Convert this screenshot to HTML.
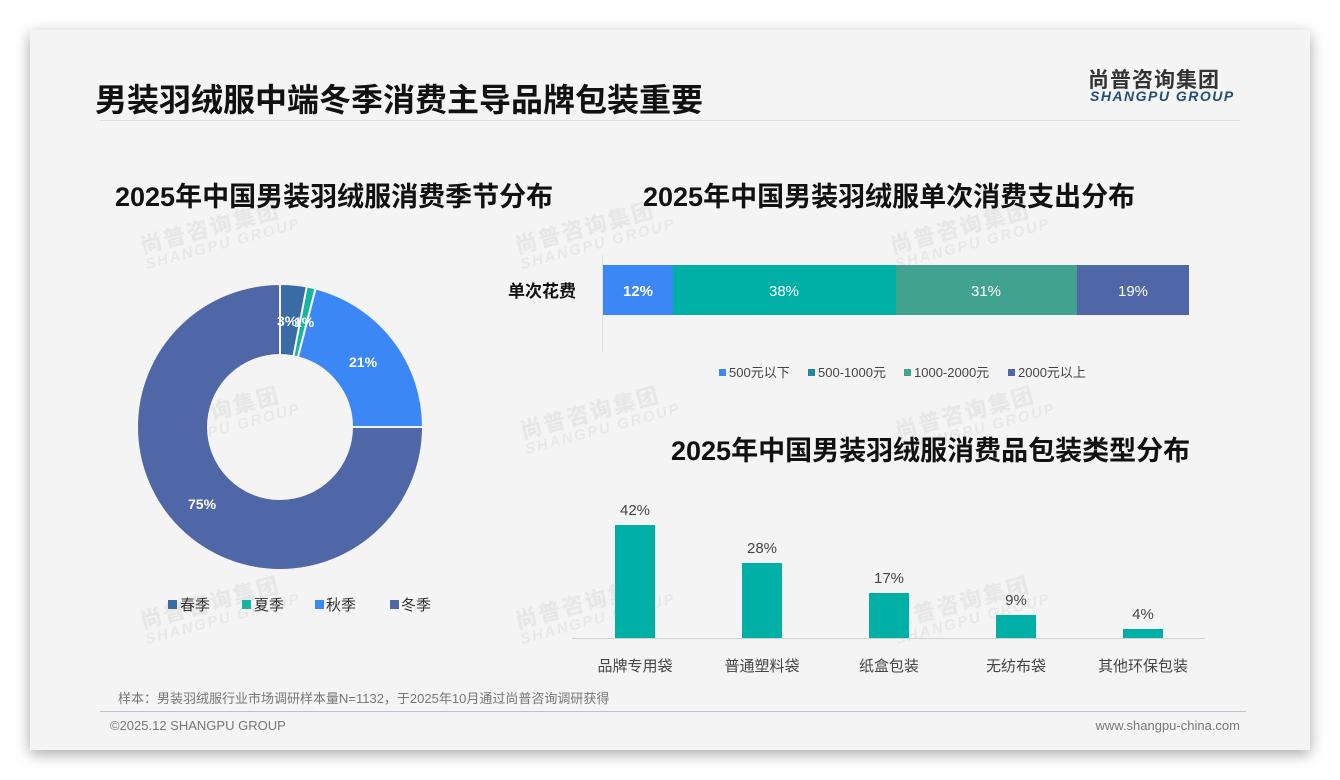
<!DOCTYPE html>
<html><head><meta charset="utf-8"><style>
body{margin:0;width:1340px;height:780px;background:#fff;font-family:"Liberation Sans","Noto Sans CJK SC",sans-serif;position:relative;overflow:hidden}
.card{position:absolute;left:30px;top:30px;width:1280px;height:720px;background:#f4f4f4;box-shadow:0 4px 14px rgba(0,0,0,.35)}
.abs{position:absolute;white-space:nowrap}
.wm{position:absolute;color:rgba(0,0,0,.05);font-weight:bold;transform:rotate(-15deg);line-height:1}
.wm b{display:block;font-size:22px;letter-spacing:2px}
.wm i{display:block;font-size:15px;font-style:italic;letter-spacing:2px}
</style></head><body>
<div class="card"></div>
<div class="wm" style="left:140px;top:215px"><b>尚普咨询集团</b><i>SHANGPU GROUP</i></div>
<div class="wm" style="left:515px;top:215px"><b>尚普咨询集团</b><i>SHANGPU GROUP</i></div>
<div class="wm" style="left:890px;top:215px"><b>尚普咨询集团</b><i>SHANGPU GROUP</i></div>
<div class="wm" style="left:140px;top:400px"><b>尚普咨询集团</b><i>SHANGPU GROUP</i></div>
<div class="wm" style="left:520px;top:400px"><b>尚普咨询集团</b><i>SHANGPU GROUP</i></div>
<div class="wm" style="left:895px;top:400px"><b>尚普咨询集团</b><i>SHANGPU GROUP</i></div>
<div class="wm" style="left:140px;top:590px"><b>尚普咨询集团</b><i>SHANGPU GROUP</i></div>
<div class="wm" style="left:515px;top:590px"><b>尚普咨询集团</b><i>SHANGPU GROUP</i></div>
<div class="wm" style="left:890px;top:590px"><b>尚普咨询集团</b><i>SHANGPU GROUP</i></div>

<div class="abs" style="left:95px;top:75px;font-size:32px;font-weight:bold;color:#111">男装羽绒服中端冬季消费主导品牌包装重要</div>
<div class="abs" style="left:1088px;top:64px;font-size:21px;font-weight:bold;color:#333;letter-spacing:1px">尚普咨询集团</div>
<div class="abs" style="left:1090px;top:88px;font-size:14px;font-weight:bold;font-style:italic;color:#1f4e79;letter-spacing:1.5px">SHANGPU GROUP</div>
<div class="abs" style="left:100px;top:120px;width:1140px;height:1px;background:#ddd"></div>

<div class="abs" style="left:115px;top:175px;font-size:27px;font-weight:bold;color:#111">2025年中国男装羽绒服消费季节分布</div>
<div class="abs" style="left:643px;top:175px;font-size:27px;font-weight:bold;color:#111">2025年中国男装羽绒服单次消费支出分布</div>
<div class="abs" style="left:671px;top:429px;font-size:27px;font-weight:bold;color:#111">2025年中国男装羽绒服消费品包装类型分布</div>

<svg class="abs" style="left:0;top:0" width="1340" height="780">
<g stroke="#f4f4f4" stroke-width="2">
<path d="M280,284 A143,143 0 0 1 306.8,286.5 L293.5,356.3 A72,72 0 0 0 280,355 Z" fill="#3b6ba5"/>
<path d="M306.8,286.5 A143,143 0 0 1 315.6,288.5 L297.9,357.3 A72,72 0 0 0 293.5,356.3 Z" fill="#17b3a3"/>
<path d="M315.6,288.5 A143,143 0 0 1 423,427 L352,427 A72,72 0 0 0 297.9,357.3 Z" fill="#3a87f5"/>
<path d="M423,427 A143,143 0 1 1 280,284 L280,355 A72,72 0 1 0 352,427 Z" fill="#4f67a6"/>
</g>
<g font-size="14" font-weight="bold" fill="#fff" font-family="Liberation Sans,sans-serif">
<text x="277" y="326">3%</text><text x="294" y="327">1%</text>
<text x="349" y="367">21%</text><text x="188" y="509">75%</text>
</g>
<g font-size="15" fill="#333" font-family="Liberation Sans,Noto Sans CJK SC,sans-serif">
<rect x="168" y="600" width="9" height="9" fill="#3b6ba5"/><text x="180" y="610">春季</text>
<rect x="242" y="600" width="9" height="9" fill="#17b3a3"/><text x="254" y="610">夏季</text>
<rect x="315" y="600" width="9" height="9" fill="#3a87f5"/><text x="326" y="610">秋季</text>
<rect x="390" y="600" width="9" height="9" fill="#4f67a6"/><text x="401" y="610">冬季</text>
</g>

<line x1="602.5" y1="255" x2="602.5" y2="352" stroke="#ddd"/>
<text x="508" y="297" font-size="17" font-weight="bold" fill="#111" font-family="Liberation Sans,Noto Sans CJK SC,sans-serif">单次花费</text>
<rect x="603" y="265" width="70" height="50" fill="#3a87f5"/>
<rect x="673" y="265" width="223" height="50" fill="#00b0a6"/>
<rect x="896" y="265" width="181" height="50" fill="#41a38f"/>
<rect x="1077" y="265" width="112" height="50" fill="#4f67a6"/>
<g font-size="15" fill="#fff" text-anchor="middle" font-family="Liberation Sans,sans-serif">
<text x="638" y="296" font-weight="bold">12%</text><text x="784" y="296">38%</text><text x="986" y="296">31%</text><text x="1133" y="296">19%</text>
</g>
<g font-size="13" fill="#444" font-family="Liberation Sans,Noto Sans CJK SC,sans-serif">
<rect x="719" y="369" width="7" height="7" fill="#3a87f5"/><text x="729" y="377">500元以下</text>
<rect x="808" y="369" width="7" height="7" fill="#1f8a9a"/><text x="818" y="377">500-1000元</text>
<rect x="904" y="369" width="7" height="7" fill="#41a38f"/><text x="914" y="377">1000-2000元</text>
<rect x="1008" y="369" width="7" height="7" fill="#4f67a6"/><text x="1018" y="377">2000元以上</text>
</g>

<line x1="572" y1="638.5" x2="1205" y2="638.5" stroke="#d0d0d0"/>
<g fill="#00b0a6">
<rect x="615" y="525" width="40" height="113"/><rect x="742" y="563" width="40" height="75"/>
<rect x="869" y="593" width="40" height="45"/><rect x="996" y="615" width="40" height="23"/>
<rect x="1123" y="629" width="40" height="9"/>
</g>
<g font-size="15" fill="#444" text-anchor="middle" font-family="Liberation Sans,Noto Sans CJK SC,sans-serif">
<text x="635" y="515">42%</text><text x="762" y="553">28%</text><text x="889" y="583">17%</text><text x="1016" y="605">9%</text><text x="1143" y="619">4%</text>
<text x="635" y="671">品牌专用袋</text><text x="762" y="671">普通塑料袋</text><text x="889" y="671">纸盒包装</text><text x="1016" y="671">无纺布袋</text><text x="1143" y="671">其他环保包装</text>
</g>
</svg>

<div class="abs" style="left:118px;top:688px;font-size:13px;color:#777">样本：男装羽绒服行业市场调研样本量N=1132，于2025年10月通过尚普咨询调研获得</div>
<div class="abs" style="left:100px;top:711px;width:1146px;height:1px;background:#b8c4d4"></div>
<div class="abs" style="left:110px;top:718px;font-size:13px;color:#777">©2025.12 SHANGPU GROUP</div>
<div class="abs" style="right:100px;top:718px;font-size:13px;color:#777">www.shangpu-china.com</div>
</body></html>
